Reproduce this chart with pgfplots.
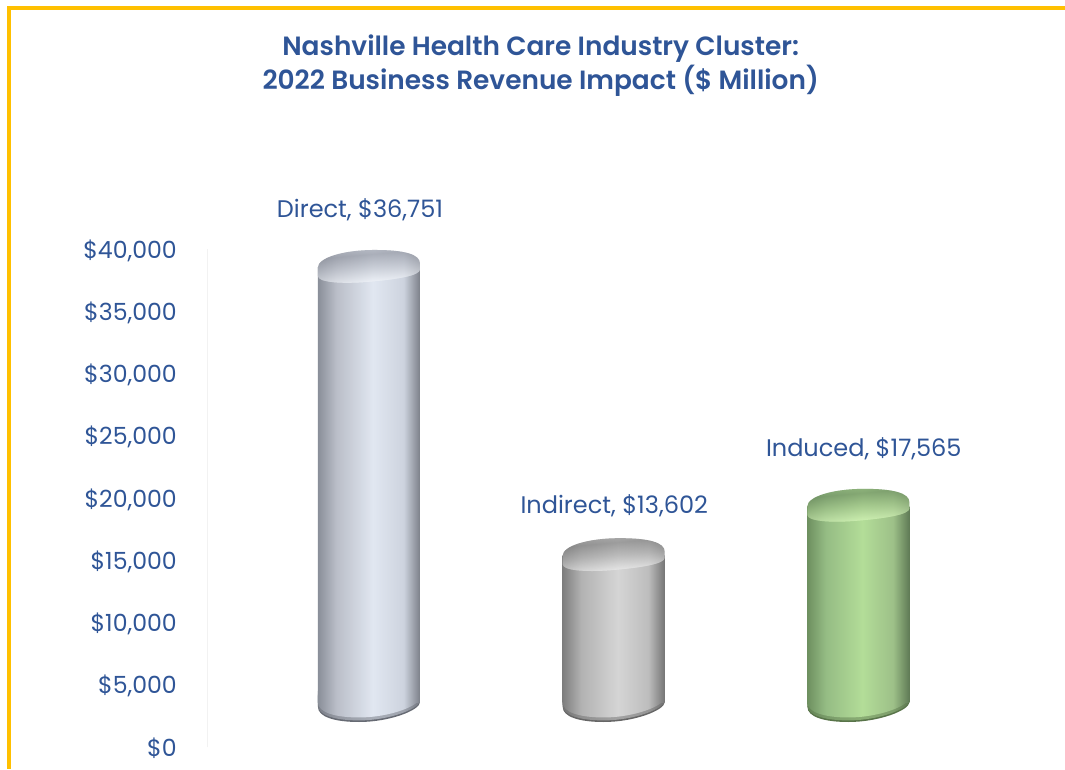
\documentclass[border=0pt]{standalone}
\usepackage{fontspec}
\setmainfont{Poppins}
\newfontfamily\titlefont{Poppins SemiBold}
\usepackage{pgfplots}
\pgfplotsset{compat=1.18}
\definecolor{txtblue}{HTML}{2F5597}
\definecolor{frame}{HTML}{FFC000}
\definecolor{dA}{HTML}{8A8F99}\definecolor{dB}{HTML}{BABEC8}\definecolor{dC}{HTML}{E1E7F1}\definecolor{dD}{HTML}{CDD3DE}\definecolor{dE}{HTML}{7C8089}
\definecolor{iA}{HTML}{7E7E7E}\definecolor{iB}{HTML}{B2B2B2}\definecolor{iC}{HTML}{D5D5D5}\definecolor{iD}{HTML}{BDBDBD}\definecolor{iE}{HTML}{757575}
\definecolor{gA}{HTML}{6E9060}\definecolor{gB}{HTML}{95BC84}\definecolor{gC}{HTML}{B3DD98}\definecolor{gD}{HTML}{9DC088}\definecolor{gE}{HTML}{5F7A55}
\newcommand{\bodyshade}[2]{\pgfdeclarehorizontalshading{#1}{100bp}{color(0bp)=(#2A);color(25bp)=(#2A);color(34bp)=(#2B);color(52bp)=(#2C);color(67bp)=(#2D);color(75bp)=(#2E);color(100bp)=(#2E)}}
\bodyshade{cylD}{d}\bodyshade{cylI}{i}\bodyshade{cylG}{g}
\definecolor{dcA}{HTML}{D0D4DE}\definecolor{dcB}{HTML}{F0F3F8}\definecolor{dcC}{HTML}{BEC2CB}\definecolor{dcD}{HTML}{9498A3}\definecolor{dcE}{HTML}{A8ACB6}
\definecolor{icA}{HTML}{C0C0C0}\definecolor{icB}{HTML}{EAEAEA}\definecolor{icC}{HTML}{B0B0B0}\definecolor{icD}{HTML}{858585}\definecolor{icE}{HTML}{9A9A9A}
\definecolor{gcA}{HTML}{A5CD8B}\definecolor{gcB}{HTML}{D4F4B8}\definecolor{gcC}{HTML}{9FC289}\definecolor{gcD}{HTML}{719264}\definecolor{gcE}{HTML}{84A874}
\newcommand{\capshade}[2]{\pgfdeclareverticalshading{#1}{100bp}{color(0bp)=(#2A);color(25bp)=(#2A);color(32bp)=(#2B);color(50bp)=(#2C);color(66bp)=(#2D);color(75bp)=(#2E);color(100bp)=(#2E)}}
\capshade{capD}{dc}\capshade{capI}{ic}\capshade{capG}{gc}
\definecolor{dRim}{HTML}{666A73}\definecolor{iRim}{HTML}{666666}\definecolor{gRim}{HTML}{587449}

% end shapes of the cylinders, stamped as plot marks at the data points
\newcommand{\capmark}[2]{\pgfdeclareplotmark{#1}{%
 \path[draw=none,#2] (-38.25pt,-6.5pt) -- (-38.25pt,0.1pt) .. controls (-38.25pt,7pt) and (-20pt,13.1pt) .. (4.5pt,13.1pt)
   .. controls (26pt,13.1pt) and (38.25pt,10pt) .. (38.25pt,3pt) -- (38.25pt,-1.56pt)
   .. controls (38.25pt,-6pt) and (22pt,-9pt) .. (-3pt,-11pt)
   .. controls (-22pt,-12.4pt) and (-38.25pt,-11pt) .. (-38.25pt,-6.5pt) -- cycle;}}
\newcommand{\basemark}[2]{\pgfdeclareplotmark{#1}{%
 \path[draw=none,#2] (-38.25pt,-3.75pt) -- (-38.25pt,5pt) -- (38.25pt,5pt) -- (38.25pt,-0.2pt)
   .. controls (38.25pt,-6pt) and (16pt,-15pt) .. (-7.5pt,-15pt)
   .. controls (-26pt,-15pt) and (-38.25pt,-11pt) .. (-38.25pt,-3.75pt) -- cycle;}}
\capmark{capD}{shade,shading=capD,shading angle=5}\capmark{capI}{shade,shading=capI,shading angle=5}\capmark{capG}{shade,shading=capG,shading angle=5}
\capmark{capDo}{shade,shading=cylD,opacity=.3}\capmark{capIo}{shade,shading=cylI,opacity=.3}\capmark{capGo}{shade,shading=cylG,opacity=.3}
\basemark{botD}{fill=dRim}\basemark{botI}{fill=iRim}\basemark{botG}{fill=gRim}
\basemark{botDm}{shade,shading=cylD,opacity=.55}\basemark{botIm}{shade,shading=cylI,opacity=.55}\basemark{botGm}{shade,shading=cylG,opacity=.55}
\basemark{botDt}{shade,shading=cylD}\basemark{botIt}{shade,shading=cylI}\basemark{botGt}{shade,shading=cylG}

\pgfplotsset{
  base axis/.style={scale only axis, anchor=south west, width=600.2pt,
    xmin=-0.67, xmax=2.6, hide axis},
  bar axis/.style={base axis, at={(153.75pt,50.25pt)}, height=356.25pt, ymin=1847, ymax=40000},
  cylend/.style={only marks, forget plot, mark=#1},
  lab/.style 2 args={draw=none, point meta=explicit symbolic, nodes near coords,
    nodes near coords style={anchor=center, text=txtblue, xshift=#1, yshift=#2, inner sep=0pt,
      font=\fontsize{18pt}{20pt}\selectfont}},
}
\begin{document}
\begin{tikzpicture}
\path[use as bounding box] (0pt,0pt) rectangle (798.75pt,576.75pt);
\fill[white] (0pt,0pt) rectangle (798.75pt,576.75pt);
\fill[frame] (4.9pt,0pt) rectangle (8.25pt,572.25pt);
\fill[frame] (4.9pt,569.6pt) rectangle (798.75pt,572.25pt);

% value axis with the tick labels and title
\begin{axis}[scale only axis, anchor=south west, at={(155.25pt,16.5pt)}, width=598.7pt, height=373.5pt,
  xmin=0, xmax=1, ymin=0, ymax=40000, axis x line=none, axis y line*=left,
  y axis line style={draw=black!5, -},
  ytick={0,5000,...,40000}, tick style={draw=none}, scaled y ticks=false,
  yticklabel={\$\pgfmathprintnumber{\tick}},
  /pgf/number format/.cd, assume math mode=true, 1000 sep={,}, fixed, /pgfplots/.cd,
  yticklabel style={font=\fontsize{17.7pt}{20pt}\selectfont, text=txtblue, inner sep=0pt, yshift=-1.2pt},
  ytick pos=left, tick align=outside, major tick length=0pt,
  typeset ticklabels with strut,
  yticklabel shift=22.5pt,
  title={Nashville Health Care Industry Cluster:\\2022 Business Revenue Impact (\$ Million)},
  title style={at={(axis description cs:0.418,1.3524)}, anchor=center, align=center, text=txtblue, inner sep=0pt,
    font=\fontsize{19.8pt}{25pt}\selectfont\titlefont},
]
\addplot[draw=none, forget plot] coordinates {(0,0)};
\end{axis}

% bottoms of the cylinders
\begin{axis}[bar axis, clip=false]
\addplot[cylend=botD] coordinates {(0,1847)};
\addplot[cylend=botI] coordinates {(1,1847)};
\addplot[cylend=botG] coordinates {(2,1847)};
\addplot[cylend=botDm] coordinates {(0,1976)};
\addplot[cylend=botIm] coordinates {(1,1976)};
\addplot[cylend=botGm] coordinates {(2,1976)};
\addplot[cylend=botDt] coordinates {(0,2211)};
\addplot[cylend=botIt] coordinates {(1,2211)};
\addplot[cylend=botGt] coordinates {(2,2211)};
\end{axis}

% cylinder bodies
\begin{axis}[bar axis]
\addplot[ybar, bar width=76.5pt, bar shift=0pt, draw=none, shade, shading=cylD] coordinates {(0,36751)};
\addplot[ybar, bar width=76.5pt, bar shift=0pt, draw=none, shade, shading=cylI] coordinates {(1,13602)};
\addplot[ybar, bar width=76.5pt, bar shift=0pt, draw=none, shade, shading=cylG] coordinates {(2,17565)};
\end{axis}

% tops and data labels
\begin{axis}[bar axis, clip=false]
\addplot[cylend=capD] coordinates {(0,36751)};
\addplot[cylend=capI] coordinates {(1,13602)};
\addplot[cylend=capG] coordinates {(2,17565)};
\addplot[cylend=capDo] coordinates {(0,36751)};
\addplot[cylend=capIo] coordinates {(1,13602)};
\addplot[cylend=capGo] coordinates {(2,17565)};
\addplot[lab={-6.75pt}{43.2pt}] coordinates {(0,36751)[Direct, \$36,751]};
\addplot[lab={0.4pt}{37.5pt}] coordinates {(1,13602)[Indirect, \$13,602]};
\addplot[lab={4pt}{42.8pt}] coordinates {(2,17565)[Induced, \$17,565]};
\end{axis}
\end{tikzpicture}
\end{document}
